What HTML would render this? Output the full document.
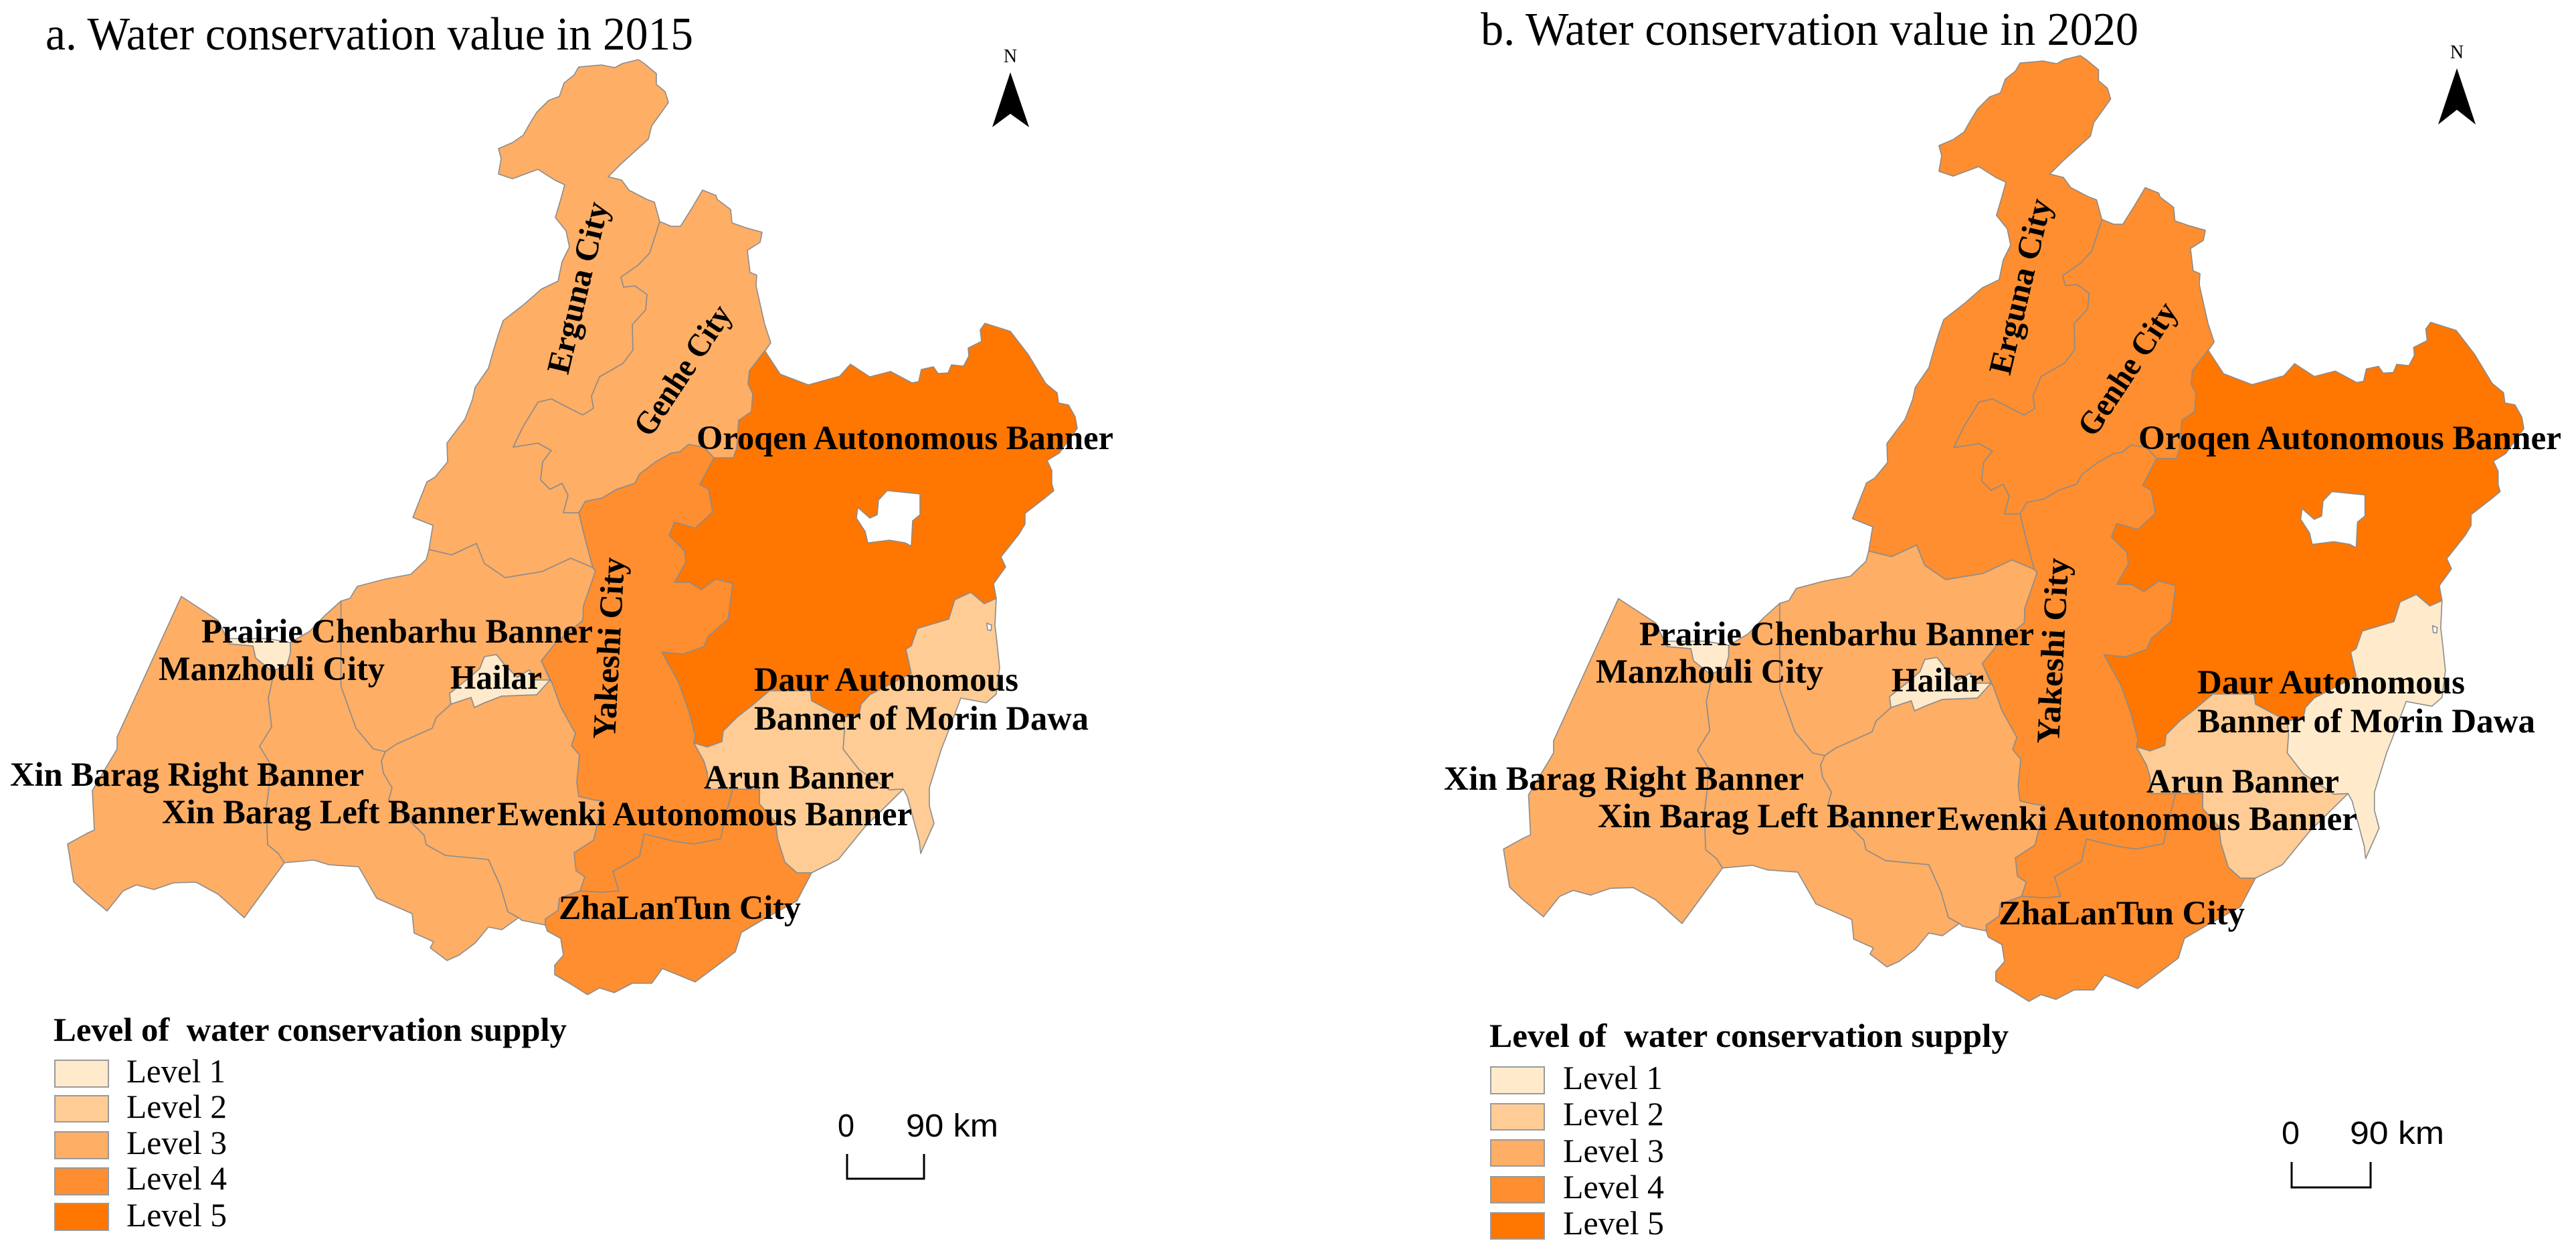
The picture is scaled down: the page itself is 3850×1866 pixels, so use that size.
<!DOCTYPE html>
<html lang="en">
<head>
<meta charset="utf-8">
<title>Water conservation value in 2015 and 2020</title>
<style>
  html, body { margin: 0; padding: 0; background: #fff; }
  svg { display: block; }
  .title { font: 70px "Liberation Serif", serif; fill: #000; }
  .place { font: bold 51px "Liberation Serif", serif; fill: #000; }
  .place-rot { font: bold 49px "Liberation Serif", serif; fill: #000; }
  .legend-title { font: bold 50px "Liberation Serif", serif; fill: #000; }
  .legend-label { font: 50px "Liberation Serif", serif; fill: #000; }
  .scale { font: 48px "Liberation Sans", sans-serif; fill: #000; }
  .north { font: 28px "Liberation Serif", serif; fill: #000; }
  .swatch { stroke: #9a9a9a; stroke-width: 2; }
</style>
</head>
<body>
<svg xmlns="http://www.w3.org/2000/svg" width="3850" height="1866" viewBox="0 0 3850 1866">
  <rect width="3850" height="1866" fill="#fff"/>

  <g id="map-a"></g>
  <g id="map-b" transform="matrix(1.0106,0,0,1.0115,2145,-7)"></g>

  <!-- Panel a -->
  <text class="title" x="68" y="74" textLength="968" lengthAdjust="spacingAndGlyphs">a. Water conservation value in 2015</text>
  <text class="north" x="1510" y="93" text-anchor="middle">N</text>
  <polygon points="1510,108 1538,190 1510,170 1483,190" fill="#000"/>

  <text class="place-rot" transform="translate(849,561) rotate(-76.6)" textLength="262" lengthAdjust="spacingAndGlyphs">Erguna City</text>
  <text class="place-rot" transform="translate(972,655) rotate(-56.5)" textLength="223" lengthAdjust="spacingAndGlyphs">Genhe City</text>
  <text class="place-rot" transform="translate(919,1105) rotate(-87)" textLength="272" lengthAdjust="spacingAndGlyphs">Yakeshi City</text>
  <text class="place" x="1041" y="671" textLength="623" lengthAdjust="spacingAndGlyphs">Oroqen Autonomous Banner</text>
  <text class="place" x="301" y="960" textLength="585" lengthAdjust="spacingAndGlyphs">Prairie Chenbarhu Banner</text>
  <text class="place" x="237" y="1016" textLength="338" lengthAdjust="spacingAndGlyphs">Manzhouli City</text>
  <text class="place" x="673" y="1029" textLength="137" lengthAdjust="spacingAndGlyphs">Hailar</text>
  <text class="place" x="1127" y="1032" textLength="395" lengthAdjust="spacingAndGlyphs">Daur Autonomous</text>
  <text class="place" x="1127" y="1090" textLength="500" lengthAdjust="spacingAndGlyphs">Banner of Morin Dawa</text>
  <text class="place" x="15" y="1174" textLength="529" lengthAdjust="spacingAndGlyphs">Xin Barag Right Banner</text>
  <text class="place" x="242" y="1230" textLength="498" lengthAdjust="spacingAndGlyphs">Xin Barag Left Banner</text>
  <text class="place" x="743" y="1233" textLength="620" lengthAdjust="spacingAndGlyphs">Ewenki Autonomous Banner</text>
  <text class="place" x="1052" y="1178" textLength="284" lengthAdjust="spacingAndGlyphs">Arun Banner</text>
  <text class="place" x="835" y="1373" textLength="362" lengthAdjust="spacingAndGlyphs">ZhaLanTun City</text>

  <text class="legend-title" x="80" y="1555" textLength="767" lengthAdjust="spacingAndGlyphs" xml:space="preserve">Level of  water conservation supply</text>
  <rect class="swatch" x="82" y="1584" width="80" height="40" fill="#FFEBCC"/>
  <rect class="swatch" x="82" y="1637" width="80" height="39" fill="#FECC94"/>
  <rect class="swatch" x="82" y="1691" width="80" height="40" fill="#FEAE65"/>
  <rect class="swatch" x="82" y="1745" width="80" height="40" fill="#FE8E2F"/>
  <rect class="swatch" x="82" y="1798" width="80" height="40" fill="#FF7600"/>
  <text class="legend-label" x="189" y="1617" textLength="148" lengthAdjust="spacingAndGlyphs">Level 1</text>
  <text class="legend-label" x="189" y="1670" textLength="150" lengthAdjust="spacingAndGlyphs">Level 2</text>
  <text class="legend-label" x="189" y="1724" textLength="150" lengthAdjust="spacingAndGlyphs">Level 3</text>
  <text class="legend-label" x="189" y="1777" textLength="150" lengthAdjust="spacingAndGlyphs">Level 4</text>
  <text class="legend-label" x="189" y="1832" textLength="150" lengthAdjust="spacingAndGlyphs">Level 5</text>

  <text class="scale" x="1252" y="1698" textLength="25" lengthAdjust="spacingAndGlyphs">0</text>
  <text class="scale" x="1354" y="1698" textLength="138" lengthAdjust="spacingAndGlyphs">90 km</text>
  <polyline points="1266,1724 1266,1761 1381,1761 1381,1724" fill="none" stroke="#000" stroke-width="3"/>

  <!-- Panel b -->
  <text class="title" x="2213" y="67" textLength="983" lengthAdjust="spacingAndGlyphs">b. Water conservation value in 2020</text>
  <text class="north" x="3672" y="87" text-anchor="middle">N</text>
  <polygon points="3672,102 3700,186 3672,164 3644,186" fill="#000"/>

  <text class="place-rot" transform="translate(3004,562) rotate(-76.6)" textLength="268" lengthAdjust="spacingAndGlyphs">Erguna City</text>
  <text class="place-rot" transform="translate(3130,655) rotate(-56.5)" textLength="228" lengthAdjust="spacingAndGlyphs">Genhe City</text>
  <text class="place-rot" transform="translate(3077,1112) rotate(-87)" textLength="278" lengthAdjust="spacingAndGlyphs">Yakeshi City</text>
  <text class="place" x="3196" y="671" textLength="632" lengthAdjust="spacingAndGlyphs">Oroqen Autonomous Banner</text>
  <text class="place" x="2450" y="964" textLength="590" lengthAdjust="spacingAndGlyphs">Prairie Chenbarhu Banner</text>
  <text class="place" x="2385" y="1020" textLength="340" lengthAdjust="spacingAndGlyphs">Manzhouli City</text>
  <text class="place" x="2827" y="1033" textLength="138" lengthAdjust="spacingAndGlyphs">Hailar</text>
  <text class="place" x="3284" y="1036" textLength="400" lengthAdjust="spacingAndGlyphs">Daur Autonomous</text>
  <text class="place" x="3284" y="1094" textLength="505" lengthAdjust="spacingAndGlyphs">Banner of Morin Dawa</text>
  <text class="place" x="2158" y="1180" textLength="538" lengthAdjust="spacingAndGlyphs">Xin Barag Right Banner</text>
  <text class="place" x="2388" y="1236" textLength="504" lengthAdjust="spacingAndGlyphs">Xin Barag Left Banner</text>
  <text class="place" x="2895" y="1240" textLength="628" lengthAdjust="spacingAndGlyphs">Ewenki Autonomous Banner</text>
  <text class="place" x="3208" y="1184" textLength="288" lengthAdjust="spacingAndGlyphs">Arun Banner</text>
  <text class="place" x="2987" y="1381" textLength="368" lengthAdjust="spacingAndGlyphs">ZhaLanTun City</text>

  <text class="legend-title" x="2226" y="1564" textLength="776" lengthAdjust="spacingAndGlyphs" xml:space="preserve">Level of  water conservation supply</text>
  <rect class="swatch" x="2228" y="1594" width="80" height="40" fill="#FFEBCC"/>
  <rect class="swatch" x="2228" y="1649" width="80" height="39" fill="#FECC94"/>
  <rect class="swatch" x="2228" y="1703" width="80" height="39" fill="#FEAE65"/>
  <rect class="swatch" x="2228" y="1758" width="80" height="39" fill="#FE8E2F"/>
  <rect class="swatch" x="2228" y="1812" width="80" height="39" fill="#FF7600"/>
  <text class="legend-label" x="2336" y="1627" textLength="149" lengthAdjust="spacingAndGlyphs">Level 1</text>
  <text class="legend-label" x="2336" y="1681" textLength="151" lengthAdjust="spacingAndGlyphs">Level 2</text>
  <text class="legend-label" x="2336" y="1736" textLength="151" lengthAdjust="spacingAndGlyphs">Level 3</text>
  <text class="legend-label" x="2336" y="1790" textLength="151" lengthAdjust="spacingAndGlyphs">Level 4</text>
  <text class="legend-label" x="2336" y="1844" textLength="151" lengthAdjust="spacingAndGlyphs">Level 5</text>

  <text class="scale" x="3410" y="1709" textLength="27" lengthAdjust="spacingAndGlyphs">0</text>
  <text class="scale" x="3512" y="1709" textLength="141" lengthAdjust="spacingAndGlyphs">90 km</text>
  <polyline points="3425,1736 3425,1774 3543,1774 3543,1736" fill="none" stroke="#000" stroke-width="3"/>
</svg>

<script>
const regionNames = ["erguna", "genhe", "oroqen", "yakeshi", "chenbarhu", "manzhouli", "hailar", "xin-barag-right", "xin-barag-left", "ewenki", "morin-dawa", "arun", "zhalantun"];
const levels2015 = [3, 3, 5, 4, 3, 1, 1, 3, 3, 3, 2, 2, 4];
const levels2020 = [4, 4, 5, 4, 3, 1, 1, 3, 3, 3, 1, 2, 4];
const levelColors = ["#FFEBCC", "#FECC94", "#FEAE65", "#FE8E2F", "#FF7600"];

// Administrative boundary geometry, in the same order as regionNames.
const regionOutlines = [
  "M909,264 927,246 949,226 969,208 974,188 987,170 999,153 994,137 981,126 981,110 963,95 954,89 930,95 919,101 899,97 865,100 858,112 843,124 836,144 820,150 802,168 791,186 782,202 766,213 745,222 749,237 745,260 766,267 804,253 829,269 844,276 838,298 830,325 846,345 851,369 840,391 834,420 809,432 784,454 752,479 745,499 737,525 730,550 710,579 706,597 695,626 668,662 669,690 650,713 638,720 617,773 647,785 641,821 675,829 712,812 724,842 755,863 810,854 853,834 886,848 874,803 865,766 842,766 849,740 840,722 822,731 808,717 811,690 824,673 804,662 767,668 782,637 804,601 824,596 855,612 871,620 887,610 884,592 896,563 931,543 946,523 945,485 965,463 967,440 949,427 932,429 928,414 954,396 971,378 981,347 986,331 978,302 967,298 940,284 929,269 Z",
  "M986,331 1003,338 1017,338 1034,311 1050,284 1070,292 1072,298 1092,313 1094,333 1114,340 1139,347 1136,362 1117,374 1121,407 1131,411 1130,427 1136,454 1143,485 1152,512 1143,525 1120,554 1118,574 1125,588 1123,615 1104,628 1101,670 1096,684 1067,684 1052,668 1029,664 1016,675 1003,677 980,690 956,708 949,722 922,731 900,744 875,749 865,766 842,766 849,740 840,722 822,731 808,717 811,690 824,673 804,662 767,668 782,637 804,601 824,596 855,612 871,620 887,610 884,592 896,563 931,543 946,523 945,485 965,463 967,440 949,427 932,429 928,414 954,396 971,378 981,347 Z",
  "M1143,524 1166,559 1208,575 1255,562 1271,544 1300,563 1331,555 1363,572 1373,570 1377,552 1395,548 1402,558 1417,557 1422,545 1440,547 1448,532 1447,520 1467,510 1465,493 1472,483 1510,495 1537,530 1563,573 1580,587 1582,602 1597,605 1607,623 1610,640 1583,677 1565,688 1572,703 1572,723 1575,733 1563,743 1532,767 1532,783 1523,798 1496,832 1503,847 1485,872 1489,894 1471,902 1451,885 1427,896 1418,925 1371,939 1362,965 1354,970 1362,1006 1300,1038 1287,1052 1284,1067 1260,1072 1213,1047 1211,1032 1150,1032 1124,1054 1101,1072 1081,1092 1079,1108 1057,1116 1037,1110 1039,1099 1030,1064 1014,1019 989,974 1021,977 1052,966 1059,950 1088,925 1095,872 1070,865 1048,881 1030,870 1008,870 1025,840 1023,823 1000,800 1008,780 1039,789 1065,765 1059,731 1046,724 1067,684 1096,684 1101,670 1104,628 1123,615 1125,588 1118,574 1120,554 Z M1282,758 1280,774 1293,794 1297,811 1329,807 1353,811 1362,816 1364,778 1375,769 1375,738 1326,733 1313,747 1311,769 1300,774 Z",
  "M865,766 875,749 900,744 922,731 949,722 956,708 980,690 1003,677 1016,675 1029,664 1052,668 1067,684 1046,724 1059,731 1065,765 1039,789 1008,780 1000,800 1023,823 1025,840 1008,870 1030,870 1048,881 1070,865 1095,872 1088,925 1059,950 1052,966 1021,977 989,974 1014,1019 1030,1064 1039,1099 1037,1110 1052,1137 1057,1154 1059,1179 1095,1179 1084,1221 1077,1253 1037,1261 1008,1257 963,1246 956,1279 916,1302 925,1331 900,1333 867,1331 874,1310 861,1301 858,1274 887,1255 901,1197 887,1195 865,1190 862,1168 866,1128 854,1114 860,1096 838,1056 825,1020 809,987 831,960 871,927 872,905 890,853 886,848 874,803 Z",
  "M641,821 637,836 614,858 576,865 534,876 523,894 509.5,898 509.5,1025 532,1088 558,1119 576,1123 592,1112 646,1088 652,1072 674,1052 672,1036 697,1016 717,999 724,981 742,978 753,992 773,1012 791,1001 800,1016 822,1016 809,987 831,960 871,927 872,905 890,853 886,848 853,834 810,854 755,863 724,842 712,812 675,829 Z",
  "M343,962 378,965 382,983 407,1003 429,994 434,976 434,960 400,954 343,954 Z",
  "M672,1036 674,1052 704,1042 709,1057 724,1050 750,1040 802,1038 822,1016 800,1016 791,1001 773,1012 753,992 742,978 724,981 717,999 697,1016 Z",
  "M271,891 326,927 343,962 378,965 382,983 407,1003 407,1016 401,1043 406,1086 388,1115 404,1141 402,1177 398,1208 400,1262 416,1275 425,1289 365,1371 326,1336 293,1318 259,1319 230,1329 204,1322 184,1331 160,1361 130,1336 110,1317 101,1261 130,1245 141,1240 138,1181 175,1119 175,1101 Z",
  "M509.5,898 509.5,1025 532,1088 558,1119 576,1123 570,1137 573,1155 586,1177 581,1195 617,1231 634,1248 637,1262 666,1278 730,1284 748,1324 759,1362 775,1371 750,1389 730,1385 710,1409 686,1427 668,1435 643,1416 648,1407 619,1394 616,1365 563,1342 536,1295 492,1292 469,1285 425,1289 416,1275 400,1262 398,1208 402,1177 404,1141 388,1115 406,1086 401,1043 407,1016 407,1003 429,994 434,976 434,960 463,943 485,920 Z",
  "M576,1123 592,1112 646,1088 652,1072 674,1052 704,1042 709,1057 724,1050 750,1040 802,1038 822,1016 825,1020 838,1056 860,1096 854,1114 866,1128 862,1168 865,1190 887,1195 901,1197 887,1255 858,1274 861,1301 874,1310 867,1331 836,1342 834,1360 815,1373 815,1382 780,1375 775,1371 759,1362 748,1324 730,1284 666,1278 637,1262 634,1248 617,1231 581,1195 586,1177 573,1155 570,1137 Z",
  "M1451,885 1471,902 1489,894 1487,934 1489,950 1494,997 1489,1037 1474,1050 1436,1043 1416,1096 1407,1119 1389,1177 1389,1204 1396,1230 1376,1275 1374,1257 1356,1190 1350,1179 1329,1180 1284,1150 1260,1119 1262,1092 1260,1072 1284,1067 1287,1052 1300,1038 1362,1006 1354,970 1362,965 1371,939 1418,925 1427,896 Z M1475,931 1482,934 1481,942 1476,941 Z",
  "M1037,1110 1057,1116 1079,1108 1081,1092 1101,1072 1124,1054 1150,1032 1211,1032 1213,1047 1260,1072 1262,1092 1260,1119 1284,1150 1329,1180 1350,1179 1293,1235 1253,1284 1213,1304 1191,1304 1173,1288 1162,1253 1159,1228 1135,1201 1135,1179 1095,1179 1059,1179 1057,1154 1052,1137 Z",
  "M1095,1179 1135,1179 1135,1201 1159,1228 1162,1253 1173,1288 1191,1304 1213,1304 1191,1346 1142,1373 1108,1393 1099,1422 1066,1447 1039,1467 990,1447 974,1469 945,1469 918,1483 896,1476 878,1486 851,1469 829,1456 829,1442 842,1427 838,1402 818,1391 815,1382 815,1373 834,1360 836,1342 867,1331 900,1333 925,1331 916,1302 956,1279 963,1246 1008,1257 1037,1261 1077,1253 1084,1221 Z"
];

function levelColor(level) {
  return levelColors[level - 1];
}

function drawMap(groupId, levels, suffix) {
  const group = document.getElementById(groupId);
  regionNames.forEach(function (name, i) {
    const path = document.createElementNS("http://www.w3.org/2000/svg", "path");
    path.setAttribute("d", regionOutlines[i]);
    path.setAttribute("fill", levelColor(levels[i]));
    path.setAttribute("fill-rule", "evenodd");
    path.setAttribute("stroke", "#8c8c8c");
    path.setAttribute("stroke-width", "1.6");
    path.setAttribute("stroke-linejoin", "round");
    
    
    group.appendChild(path);
  });
}

drawMap("map-a", levels2015, "2015");
drawMap("map-b", levels2020, "2020");
</script>
</body>
</html>
